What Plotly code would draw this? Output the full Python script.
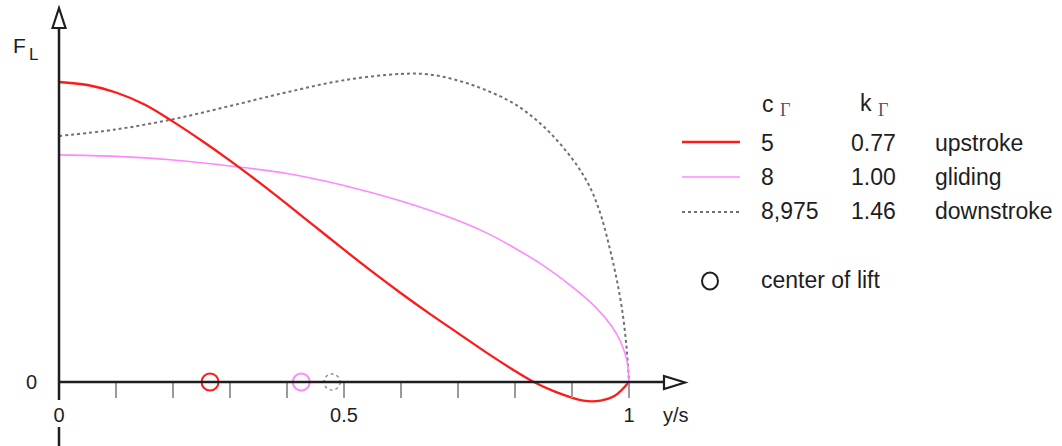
import plotly.graph_objects as go

# ---------------- data ----------------
# spanwise position y/s and lift distribution F_L (normalised, red root value = 1)
upstroke_x = [0.0, 0.05, 0.10, 0.15, 0.20, 0.25, 0.30, 0.35, 0.40, 0.45, 0.50, 0.55, 0.60, 0.65, 0.70,
              0.75, 0.80, 0.833, 0.87, 0.92, 0.95, 0.975, 1.0]
upstroke_y = [1.0, 0.990, 0.965, 0.925, 0.868, 0.805, 0.738, 0.667, 0.593, 0.517, 0.441, 0.367, 0.296,
              0.228, 0.163, 0.098, 0.037, 0.0, -0.032, -0.062, -0.062, -0.046, 0.0]

gliding_x = [0.0, 0.10, 0.20, 0.30, 0.40, 0.50, 0.60, 0.70, 0.75, 0.80, 0.85, 0.90, 0.94, 0.97, 0.985,
             0.996, 1.0]
gliding_y = [0.757, 0.752, 0.740, 0.720, 0.695, 0.655, 0.603, 0.538, 0.497, 0.446, 0.388, 0.318, 0.252,
             0.185, 0.135, 0.075, 0.0]

downstroke_x = [0.0, 0.10, 0.20, 0.30, 0.40, 0.50, 0.60, 0.65, 0.70, 0.75, 0.80, 0.85, 0.90, 0.93, 0.95,
                0.965, 0.977, 0.987, 0.995, 1.0]
downstroke_y = [0.820, 0.842, 0.876, 0.920, 0.966, 1.006, 1.027, 1.025, 1.005, 0.972, 0.926, 0.852, 0.745,
                0.655, 0.560, 0.455, 0.355, 0.252, 0.130, 0.0]

center_of_lift = [0.265, 0.425, 0.479]   # upstroke, gliding, downstroke

c_gamma = ["5", "8", "8,975"]
k_gamma = ["0.77", "1.00", "1.46"]
phase = ["upstroke", "gliding", "downstroke"]

x_tickvals = [0, 0.1, 0.2, 0.3, 0.4, 0.5, 0.6, 0.7, 0.8, 0.9, 1.0]
x_ticktext = ["0", "", "", "", "", "0.5", "", "", "", "", "1"]

# ---------------- geometry helpers (decoration placement) ----------------
W, H = 1062, 446
X0PX, Y0PX = 59, 382
XS, YS = 570.0, 300.0


def px(xp):
    return (xp - X0PX) / XS


def py(yp):
    return (Y0PX - yp) / YS


RED = "#ff1a1a"
PINK = "#ff88ff"
GRAY = "#707070"
INK = "#1e1e1e"
FONT = "Liberation Sans, Arial, sans-serif"
SERIF = "Liberation Serif, DejaVu Serif, serif"

fig = go.Figure()

fig.add_trace(go.Scatter(x=downstroke_x, y=downstroke_y, mode="lines",
                         line=dict(color=GRAY, width=2, dash="dot", shape="spline", smoothing=1),
                         showlegend=False, hoverinfo="skip"))
fig.add_trace(go.Scatter(x=gliding_x, y=gliding_y, mode="lines",
                         line=dict(color=PINK, width=1.6, shape="spline", smoothing=1),
                         showlegend=False, hoverinfo="skip"))
fig.add_trace(go.Scatter(x=upstroke_x, y=upstroke_y, mode="lines",
                         line=dict(color=RED, width=2.3, shape="spline", smoothing=1),
                         showlegend=False, hoverinfo="skip"))

# center of lift markers
fig.add_trace(go.Scatter(x=center_of_lift[:2], y=[0, 0], mode="markers",
                         marker=dict(symbol="circle-open", size=17,
                                     color=[RED, PINK], line=dict(width=2, color=[RED, PINK])),
                         showlegend=False, hoverinfo="skip", cliponaxis=False))

shapes = []
# dashed circle for downstroke center of lift
shapes.append(dict(type="circle", xref="x", yref="y", xsizemode="pixel", ysizemode="pixel",
                   xanchor=center_of_lift[2], yanchor=0, x0=-8, x1=8, y0=-8, y1=8,
                   line=dict(color="#909090", width=1.5, dash="dot"), layer="above"))

AX = dict(color=INK, width=2.5)
# x axis line + hollow arrow
shapes.append(dict(type="line", xref="x", yref="y", x0=px(59), x1=px(664), y0=0, y1=0, line=AX))
shapes.append(dict(type="path", xref="x", yref="y",
                   path=f"M {px(664)},{py(376)} L {px(685)},{py(382.5)} L {px(664)},{py(389)} Z",
                   fillcolor="white", line=dict(color=INK, width=2.2)))
# y axis line (with gap around the x "0" label) + hollow arrow
shapes.append(dict(type="line", xref="x", yref="y", x0=0, x1=0, y0=py(400), y1=py(28), line=AX))
shapes.append(dict(type="line", xref="x", yref="y", x0=0, x1=0, y0=py(427), y1=py(450), line=AX))
shapes.append(dict(type="path", xref="x", yref="y",
                   path=f"M {px(52.5)},{py(28)} L {px(59)},{py(8)} L {px(65.5)},{py(28)} Z",
                   fillcolor="white", line=dict(color=INK, width=2.2)))

# legend line samples
shapes.append(dict(type="line", xref="x", yref="y", x0=px(682), x1=px(740), y0=py(142), y1=py(142),
                   line=dict(color=RED, width=2.3)))
shapes.append(dict(type="line", xref="x", yref="y", x0=px(682), x1=px(740), y0=py(177), y1=py(177),
                   line=dict(color=PINK, width=1.6)))
shapes.append(dict(type="line", xref="x", yref="y", x0=px(682), x1=px(740), y0=py(212), y1=py(212),
                   line=dict(color=GRAY, width=2, dash="dot")))
shapes.append(dict(type="circle", xref="x", yref="y", xsizemode="pixel", ysizemode="pixel",
                   xanchor=px(710), yanchor=py(281), x0=-8, x1=8, y0=-8.5, y1=8.5,
                   line=dict(color=INK, width=2)))

annotations = []


def txt(s, xp, yp, size=23, xanchor="left", font=FONT, color=INK):
    annotations.append(dict(text=s, x=px(xp), y=py(yp), xref="x", yref="y",
                            xanchor=xanchor, yanchor="middle", showarrow=False,
                            font=dict(family=font, size=size, color=color)))


# axis titles
txt("F", 19, 45, size=21, xanchor="center")
txt("L", 33.5, 54, size=17, xanchor="center")
txt("y/s", 676, 415, size=20, xanchor="center")

# legend header
txt("c", 760, 104)
txt("Γ", 778, 110, size=18, font=SERIF, color="#555555")
txt("k", 858, 103)
txt("Γ", 876, 110, size=18, font=SERIF, color="#555555")

rows_y = [143, 177, 211]
for c, k, p, yy in zip(c_gamma, k_gamma, phase, rows_y):
    txt(c, 759, yy)
    txt(k, 849, yy)
    txt(p, 933, yy)
txt("center of lift", 759, 280)

fig.update_layout(
    width=W, height=H,
    margin=dict(l=0, r=0, t=0, b=0),
    paper_bgcolor="white", plot_bgcolor="white",
    showlegend=False,
    shapes=shapes,
    annotations=annotations,
    xaxis=dict(range=[px(0), px(W)], showgrid=False, zeroline=False, showline=False,
               anchor="free", position=(H - Y0PX) / H,
               tickmode="array", tickvals=x_tickvals, ticktext=x_ticktext,
               ticks="outside", ticklen=15, tickwidth=1.5, tickcolor="#9a9a9a",
               ticklabelstandoff=0,
               tickfont=dict(family=FONT, size=20, color=INK), fixedrange=True),
    yaxis=dict(range=[py(H), py(0)], showgrid=False, zeroline=False, showline=False,
               anchor="free", position=X0PX / W,
               tickmode="array", tickvals=[0], ticktext=["0"], ticks="",
               ticklabelstandoff=22,
               tickfont=dict(family=FONT, size=20, color=INK), fixedrange=True),
)

fig.write_html("out.html", config={"displayModeBar": False},
               post_script="document.body.style.margin='0';document.body.style.overflow='hidden';")
